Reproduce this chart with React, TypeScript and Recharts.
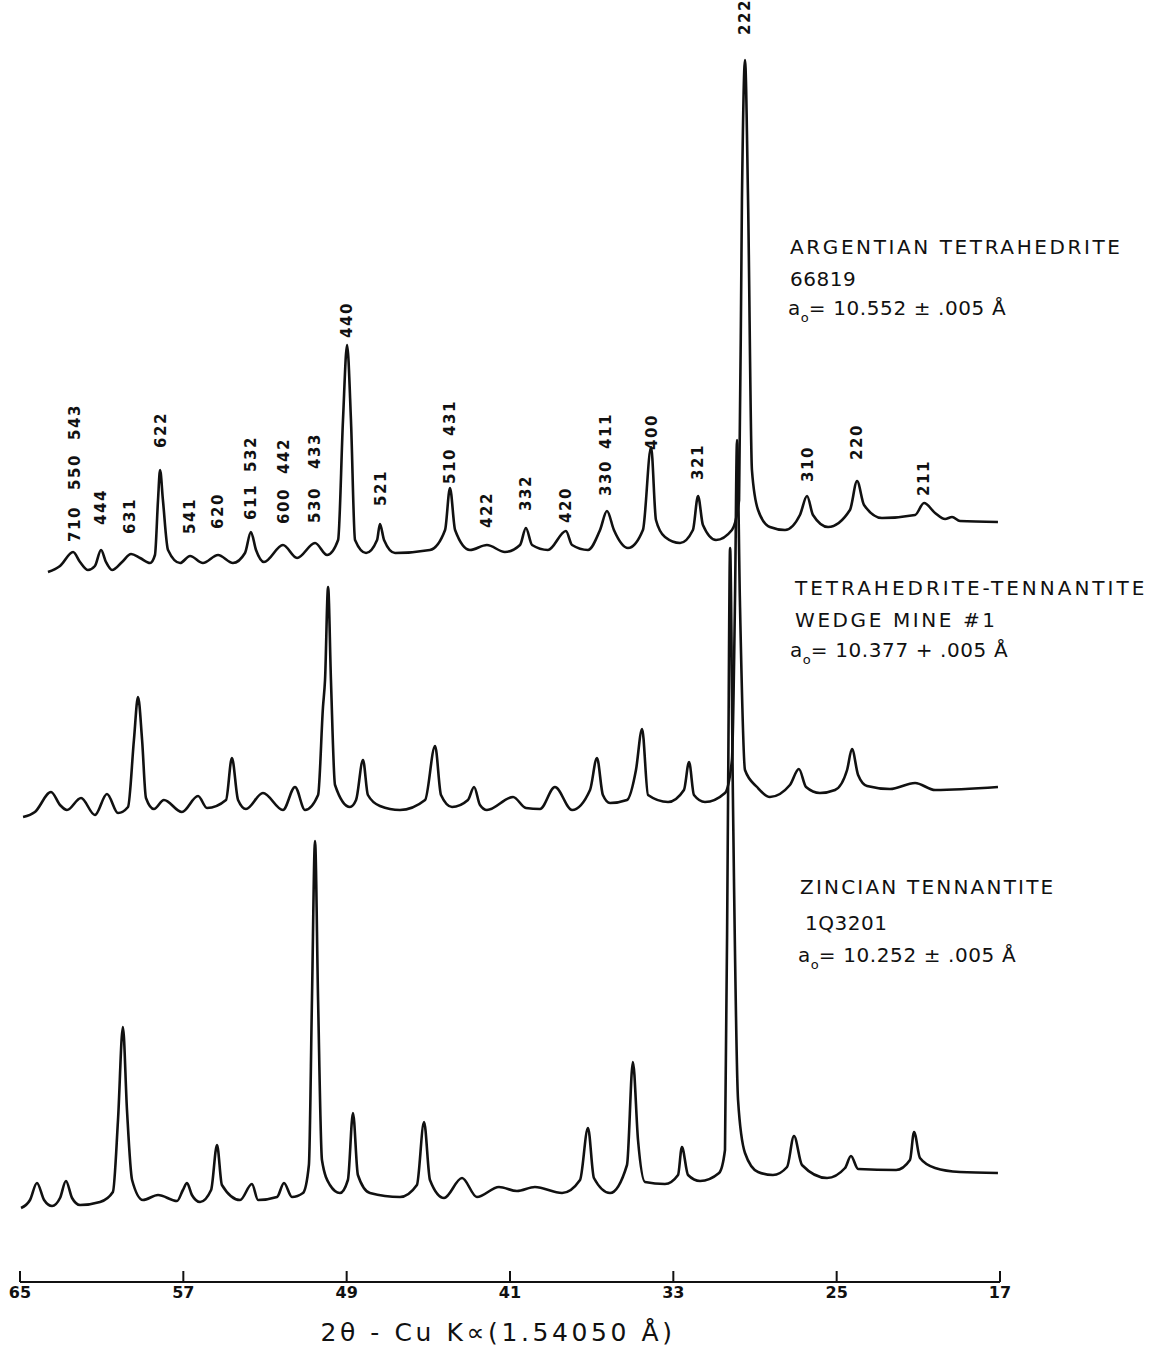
import { ComposedChart, Line, Scatter, XAxis, YAxis } from 'recharts'

// [2θ in degrees, trace height in chart units], left to right
const argentian: [number, number][] = [
  [63.63, 711], [63.04, 717], [62.40, 731], [62.06, 721], [61.67, 713], [61.33, 717], [61.03, 733],
  [60.79, 721], [60.49, 713], [60.00, 721], [59.56, 729], [59.12, 725], [58.63, 720], [58.39, 728],
  [58.24, 783], [58.14, 813], [58.00, 783], [57.75, 733], [57.16, 720], [56.67, 727], [56.04, 720],
  [55.30, 728], [54.57, 720], [53.98, 730], [53.69, 751], [53.44, 733], [53.05, 721], [52.12, 738],
  [51.43, 725], [50.55, 740], [49.96, 728], [49.42, 743], [49.18, 863], [48.98, 938], [48.79, 863],
  [48.59, 743], [48.05, 730], [47.51, 743], [47.37, 759], [47.17, 743], [46.63, 730], [44.92, 733],
  [44.18, 753], [43.94, 795], [43.69, 753], [42.96, 733], [42.13, 738], [41.25, 731], [40.51, 738],
  [40.22, 755], [39.92, 738], [39.14, 733], [38.26, 752], [37.96, 738], [37.18, 733], [36.59, 753],
  [36.25, 772], [35.91, 753], [35.22, 735], [34.49, 753], [34.09, 836], [33.85, 763], [33.41, 746],
  [32.67, 740], [32.04, 753], [31.79, 787], [31.55, 758], [30.91, 743], [30.13, 753], [29.78, 783],
  [29.64, 1083], [29.49, 1223], [29.34, 1083], [29.15, 813], [28.85, 773], [28.27, 756], [27.53, 753],
  [26.80, 768], [26.45, 787], [26.16, 768], [25.42, 756], [24.35, 773], [24.00, 802], [23.66, 778],
  [22.78, 765], [21.16, 768], [20.72, 780], [20.18, 770], [19.69, 764], [19.35, 766], [18.96, 762],
  [17.10, 761],
]

const wedgeMine: [number, number][] = [
  [64.85, 466], [64.27, 471], [63.48, 491], [63.04, 478], [62.70, 473], [62.01, 485], [61.33, 468],
  [60.74, 489], [60.20, 470], [59.71, 476], [59.42, 543], [59.22, 586], [59.02, 543], [58.83, 485],
  [58.44, 474], [57.95, 483], [57.07, 471], [56.28, 487], [55.84, 475], [54.91, 483], [54.62, 525],
  [54.32, 483], [53.93, 474], [53.10, 490], [52.12, 473], [51.53, 496], [51.04, 473], [50.40, 488],
  [50.16, 576], [50.06, 603], [49.91, 696], [49.77, 603], [49.57, 498], [48.84, 476], [48.54, 483],
  [48.20, 523], [47.96, 488], [47.37, 477], [46.39, 473], [45.16, 483], [44.67, 537], [44.38, 488],
  [43.84, 476], [43.06, 483], [42.76, 496], [42.47, 478], [42.13, 473], [40.85, 486], [40.22, 475],
  [39.53, 474], [38.80, 496], [37.96, 473], [37.08, 493], [36.74, 525], [36.45, 488], [36.10, 480],
  [35.27, 483], [34.83, 513], [34.53, 554], [34.24, 488], [33.26, 481], [32.48, 493], [32.23, 521],
  [31.99, 488], [31.45, 481], [30.47, 490], [30.13, 523], [29.98, 683], [29.88, 843], [29.74, 683],
  [29.49, 513], [28.90, 496], [28.27, 486], [27.29, 498], [26.85, 514], [26.50, 496], [25.82, 490],
  [25.08, 493], [24.49, 513], [24.25, 534], [23.95, 508], [23.51, 497], [22.39, 494], [21.16, 500],
  [20.18, 493], [17.10, 496],
]

const zincian: [number, number][] = [
  [64.95, 75], [64.51, 83], [64.17, 100], [63.82, 83], [63.43, 77], [63.04, 85], [62.75, 102],
  [62.45, 85], [62.06, 78], [61.08, 81], [60.45, 91], [60.20, 163], [59.96, 256], [59.76, 173],
  [59.51, 103], [58.98, 83], [58.24, 88], [57.31, 82], [57.02, 93], [56.82, 100], [56.58, 88],
  [56.18, 81], [55.64, 93], [55.35, 138], [55.11, 98], [54.22, 83], [53.64, 99], [53.34, 83],
  [52.41, 86], [52.07, 100], [51.68, 86], [51.14, 90], [50.85, 118], [50.70, 283], [50.55, 442],
  [50.40, 283], [50.21, 123], [49.82, 98], [49.33, 90], [48.94, 103], [48.69, 170], [48.45, 108],
  [47.86, 90], [46.39, 86], [45.56, 98], [45.21, 161], [44.92, 103], [44.23, 85], [43.35, 105],
  [42.62, 86], [41.54, 96], [40.66, 92], [39.78, 96], [38.45, 90], [37.57, 103], [37.18, 155],
  [36.89, 105], [36.10, 90], [35.27, 118], [34.98, 221], [34.73, 143], [34.39, 101], [33.41, 99],
  [32.77, 108], [32.58, 136], [32.28, 108], [31.69, 102], [30.76, 110], [30.47, 133], [30.32, 483],
  [30.22, 735], [30.08, 483], [29.83, 183], [29.49, 130], [28.85, 111], [28.12, 108], [27.43, 116],
  [27.09, 147], [26.70, 118], [25.47, 105], [24.59, 115], [24.30, 127], [23.95, 114], [22.09, 113],
  [21.41, 123], [21.21, 151], [20.92, 125], [20.18, 115], [18.96, 111], [17.10, 110],
]

// hkl indices written above the argentian trace: [2θ, height, text]
const hklLabels: [number, number, string][] = [
  [62.31, 759, '710'], [62.31, 811, '550'], [62.31, 861, '543'],
  [61.03, 776, '444'], [59.61, 767, '631'], [58.09, 853, '622'],
  [56.67, 767, '541'], [55.30, 772, '620'],
  [53.69, 781, '611'], [53.69, 829, '532'],
  [52.07, 777, '600'], [52.07, 827, '442'],
  [50.55, 778, '530'], [50.55, 832, '433'],
  [48.98, 963, '440'], [47.32, 795, '521'],
  [43.94, 817, '510'], [43.94, 865, '431'],
  [42.13, 773, '422'], [40.22, 790, '332'], [38.26, 778, '420'],
  [36.30, 805, '330'], [36.30, 852, '411'],
  [34.05, 851, '400'], [31.79, 821, '321'], [29.49, 1266, '222'],
  [26.40, 819, '310'], [24.00, 841, '220'], [20.72, 805, '211'],
]

const angleTicks = [65, 57, 49, 41, 33, 25, 17]

const toPoints = (rows: [number, number][]) => rows.map(([t, v]) => ({ t, v }))
const labelPoints = hklLabels.map(([t, v, hkl]) => ({ t, v, hkl }))

const ink = '#111'
const font = '"DejaVu Sans", sans-serif'

function AngleTick({ x, y, payload }: any) {
  return (
    <g>
      <line x1={x} x2={x} y1={y - 11} y2={y} stroke={ink} strokeWidth={2} />
      <text x={x} y={y + 16} textAnchor="middle" fontSize={16} fontWeight={700} fontFamily={font} fill={ink}>
        {payload.value}
      </text>
    </g>
  )
}

function HklLabel({ cx, cy, payload }: any) {
  return (
    <text
      x={cx}
      y={cy}
      transform={`rotate(-90 ${cx} ${cy})`}
      textAnchor="middle"
      dominantBaseline="central"
      fontSize={15}
      fontWeight={700}
      letterSpacing={1.6}
      fontFamily={font}
      fill={ink}
    >
      {payload.hkl}
    </text>
  )
}

const lineText = (top: number, left: number, spacing: number): React.CSSProperties => ({
  position: 'absolute', top, left, fontSize: 20, lineHeight: '20px', letterSpacing: spacing,
  whiteSpace: 'nowrap', color: ink,
})

const sub: React.CSSProperties = { fontSize: 13, verticalAlign: -7, letterSpacing: 0 }

export default function App() {
  return (
    <div style={{ position: 'absolute', left: 0, top: 0, width: 1153, height: 1349, background: '#fff', fontFamily: font }}>
      <ComposedChart width={1153} height={1349} margin={{ top: 0, right: 153, bottom: 37, left: 20 }}>
        <XAxis
          dataKey="t"
          type="number"
          domain={[17, 65]}
          reversed
          ticks={angleTicks}
          interval={0}
          tickSize={0}
          tickMargin={0}
          tickLine={false}
          axisLine={{ stroke: ink, strokeWidth: 2 }}
          tick={<AngleTick />}
          height={30}
        />
        <YAxis dataKey="v" type="number" domain={[1, 1283]} hide />
        <Line data={toPoints(argentian)} dataKey="v" type="monotoneX" stroke={ink} strokeWidth={2.6} dot={false} activeDot={false} isAnimationActive={false} />
        <Line data={toPoints(wedgeMine)} dataKey="v" type="monotoneX" stroke={ink} strokeWidth={2.6} dot={false} activeDot={false} isAnimationActive={false} />
        <Line data={toPoints(zincian)} dataKey="v" type="monotoneX" stroke={ink} strokeWidth={2.6} dot={false} activeDot={false} isAnimationActive={false} />
        <Scatter data={labelPoints} dataKey="v" shape={<HklLabel />} isAnimationActive={false} />
      </ComposedChart>

      <div style={lineText(237, 790, 2.6)}>ARGENTIAN TETRAHEDRITE</div>
      <div style={lineText(269, 790, 0.5)}>66819</div>
      <div style={lineText(298, 788, 0.6)}>a<span style={sub}>o</span>= 10.552 ± .005 Å</div>

      <div style={lineText(578, 795, 3)}>TETRAHEDRITE-TENNANTITE</div>
      <div style={lineText(610, 795, 2.6)}>WEDGE MINE #1</div>
      <div style={lineText(640, 790, 0.6)}>a<span style={sub}>o</span>= 10.377 + .005 Å</div>

      <div style={lineText(877, 800, 2.2)}>ZINCIAN TENNANTITE</div>
      <div style={lineText(913, 805, 0.5)}>1Q3201</div>
      <div style={lineText(945, 798, 0.6)}>a<span style={sub}>o</span>= 10.252 ± .005 Å</div>

      <div style={{ position: 'absolute', top: 1320, left: 248, width: 500, textAlign: 'center', fontSize: 25, lineHeight: '26px', letterSpacing: 3.6, color: ink }}>
        2θ - Cu K∝(1.54050 Å)
      </div>
    </div>
  )
}
